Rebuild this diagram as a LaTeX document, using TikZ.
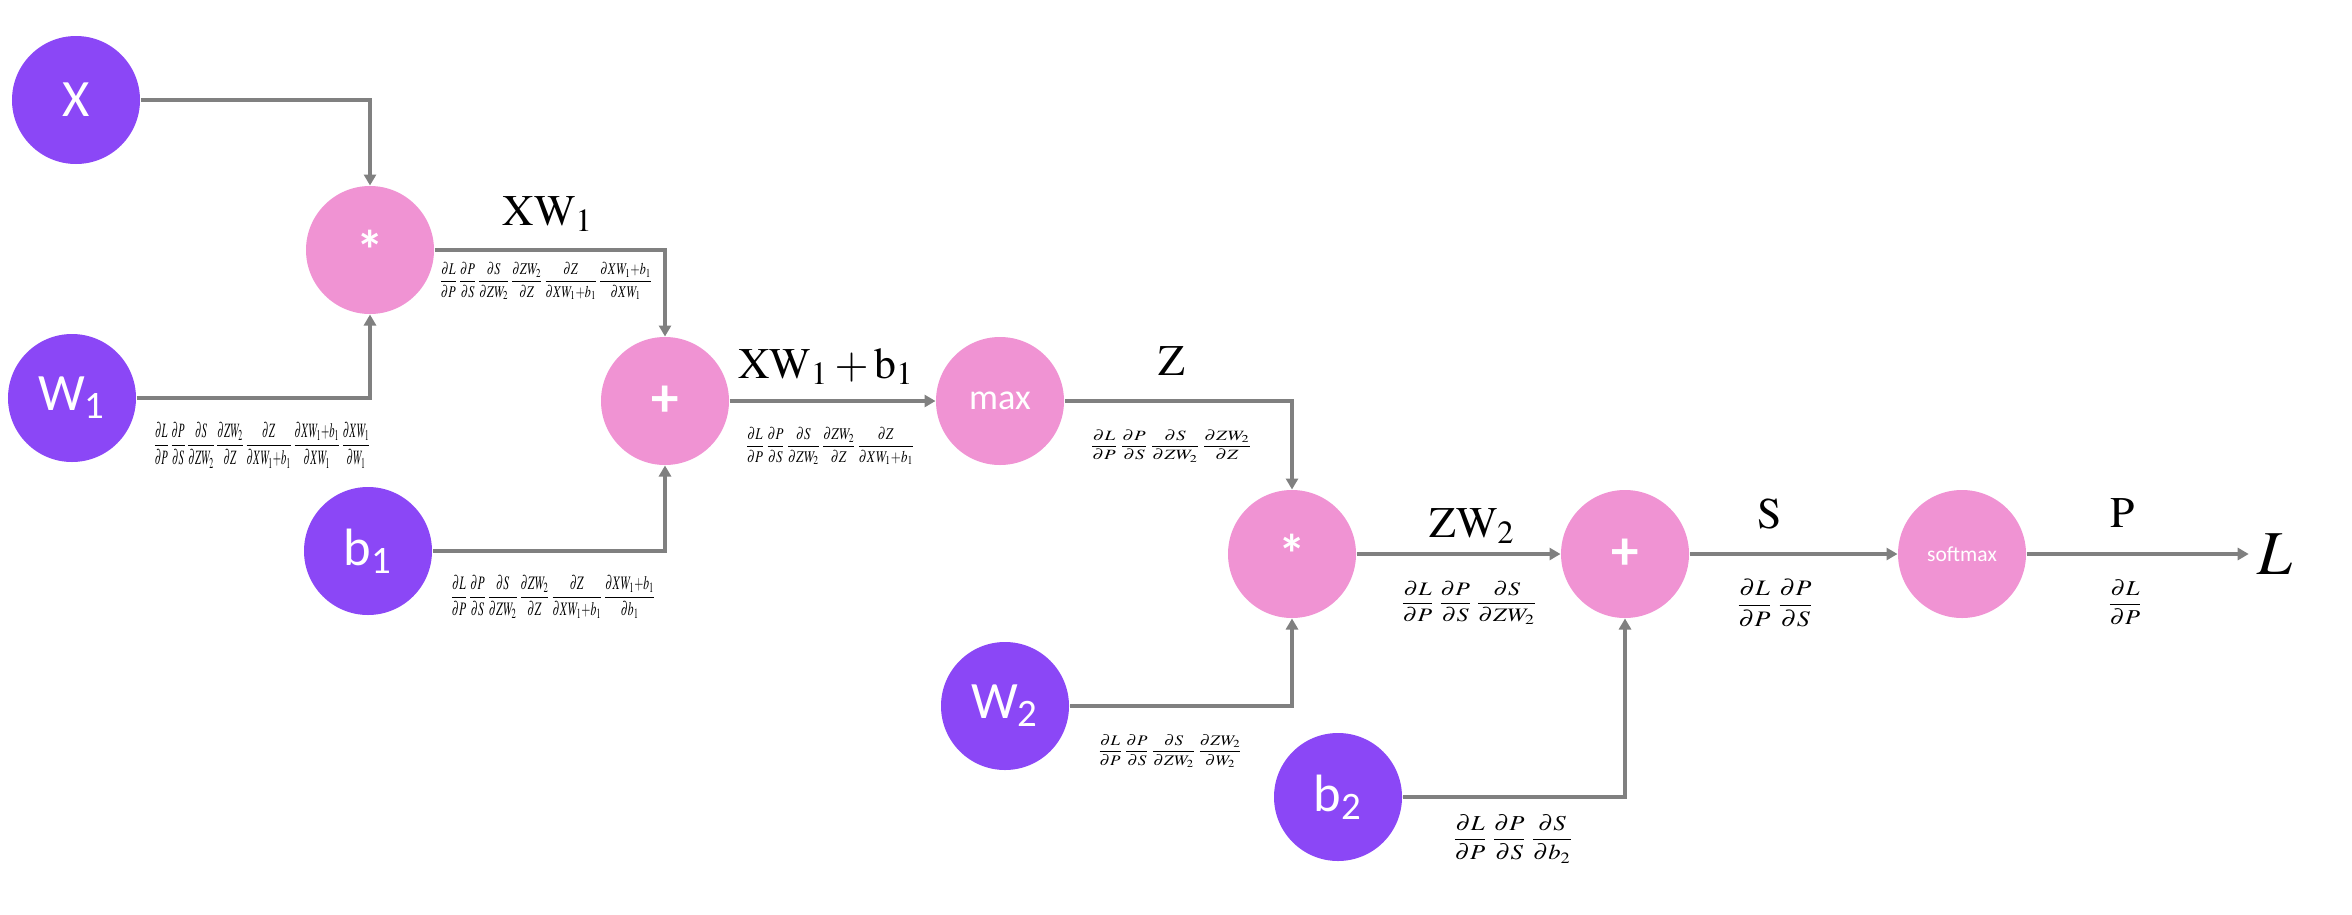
\documentclass[tikz,border=0pt]{standalone}
\usepackage{amsmath}
\usepackage{mathptmx}
\usepackage{graphicx}
\usepackage[no-math]{fontspec}
\newfontfamily\calfont{Carlito}
\usetikzlibrary{arrows.meta}
\definecolor{violet1}{HTML}{8B47F6}
\definecolor{pink1}{HTML}{F093D3}
\definecolor{linegray}{HTML}{808080}
% gradient chain squeezed to the size it has in the figure
\newcommand{\gradbox}[3]{\resizebox*{#1}{#2}{$\displaystyle #3$}}

\begin{document}
\begin{tikzpicture}[x=0.4pt, y=-0.4pt,
  inp/.style={circle, fill=violet1, minimum size=51.2pt, inner sep=0pt,
              text=white, font=\calfont\fontsize{21}{24}\selectfont},
  op/.style={circle, fill=pink1, minimum size=51.2pt, inner sep=0pt,
             text=white, font=\calfont\bfseries\fontsize{22}{24}\selectfont},
  link/.style={draw=linegray, line width=1.6pt, -{Triangle[length=4.4pt,width=4.8pt]}},
  val/.style={anchor=base, inner sep=0pt, font=\fontsize{17.5}{20}\selectfont},
  grad/.style={inner sep=0pt}]
\fill[white] (0,0) rectangle (2352,914);
\useasboundingbox (0,0) rectangle (2352,914);

% inputs and operations
\node[inp] (x) at (76,100) {X};
\node[inp] (w1) at (72,398) {W\textsubscript{1}};
\node[op] (mul1) at (370,250) {*};
\node[op] (add1) at (665,401) {+};
\node[inp] (b1) at (368,551) {b\textsubscript{1}};
\node[op, font=\calfont\fontsize{14.5}{16}\selectfont] (relu) at (1000,401) {max};
\node[op] (mul2) at (1292,554) {*};
\node[inp] (w2) at (1005,706) {W\textsubscript{2}};
\node[op] (add2) at (1625,554) {+};
\node[inp] (b2) at (1338,797) {b\textsubscript{2}};
\node[op, font=\calfont\fontsize{8.6}{10}\selectfont] (soft) at (1962,554) {softmax};
\node[font=\fontsize{25}{28}\selectfont] (loss) at (2275,554) {$L$};

% forward connections
\draw[link] (x) -| (mul1);
\draw[link] (w1) -| (mul1);
\draw[link] (mul1) -| (add1);
\draw[link] (b1) -| (add1);
\draw[link] (add1) -- (relu);
\draw[link] (relu) -| (mul2);
\draw[link] (w2) -| (mul2);
\draw[link] (mul2) -- (add2);
\draw[link] (b2) -| (add2);
\draw[link] (add2) -- (soft);
\draw[link] (soft) -- (loss);

% values on the edges
\node[val] (vxw) at (548,225) {$\mathrm{XW}_1$};
\node[val] (vxwb) at (826,378) {$\mathrm{XW}_1+\mathrm{b}_1$};
\node[val] (vz) at (1172,375) {$\mathrm{Z}$};
\node[val] (vzw) at (1472,537) {$\mathrm{ZW}_2$};
\node[val] (vs) at (1770,528) {$\mathrm{S}$};
\node[val] (vp) at (2123,527) {$\mathrm{P}$};

% gradients under the edges
\node[grad] (gxw) at (546,281) {\gradbox{85.2pt}{14.8pt}{\frac{\partial L}{\partial P}\,\frac{\partial P}{\partial S}\,\frac{\partial S}{\partial ZW_2}\,\frac{\partial ZW_2}{\partial Z}\,\frac{\partial Z}{\partial XW_1{+}b_1}\,\frac{\partial XW_1{+}b_1}{\partial XW_1}}};
\node[grad] (gw1) at (262,445) {\gradbox{86.8pt}{18.4pt}{\frac{\partial L}{\partial P}\,\frac{\partial P}{\partial S}\,\frac{\partial S}{\partial ZW_2}\,\frac{\partial ZW_2}{\partial Z}\,\frac{\partial Z}{\partial XW_1{+}b_1}\,\frac{\partial XW_1{+}b_1}{\partial XW_1}\,\frac{\partial XW_1}{\partial W_1}}};
\node[grad] (gb1) at (553,597) {\gradbox{82pt}{17.2pt}{\frac{\partial L}{\partial P}\,\frac{\partial P}{\partial S}\,\frac{\partial S}{\partial ZW_2}\,\frac{\partial ZW_2}{\partial Z}\,\frac{\partial Z}{\partial XW_1{+}b_1}\,\frac{\partial XW_1{+}b_1}{\partial b_1}}};
\node[grad] (gxwb) at (830,446) {\gradbox{67.6pt}{14.8pt}{\frac{\partial L}{\partial P}\,\frac{\partial P}{\partial S}\,\frac{\partial S}{\partial ZW_2}\,\frac{\partial ZW_2}{\partial Z}\,\frac{\partial Z}{\partial XW_1{+}b_1}}};
\node[grad] (gz) at (1171,446) {\gradbox{64.8pt}{12.8pt}{\frac{\partial L}{\partial P}\,\frac{\partial P}{\partial S}\,\frac{\partial S}{\partial ZW_2}\,\frac{\partial ZW_2}{\partial Z}}};
\node[grad] (gw2) at (1170,751) {\gradbox{58pt}{13.2pt}{\frac{\partial L}{\partial P}\,\frac{\partial P}{\partial S}\,\frac{\partial S}{\partial ZW_2}\,\frac{\partial ZW_2}{\partial W_2}}};
\node[grad] (gzw) at (1469,603) {\gradbox{55.2pt}{17.2pt}{\frac{\partial L}{\partial P}\,\frac{\partial P}{\partial S}\,\frac{\partial S}{\partial ZW_2}}};
\node[grad] (gb2) at (1513,839) {\gradbox{48.8pt}{19.2pt}{\frac{\partial L}{\partial P}\,\frac{\partial P}{\partial S}\,\frac{\partial S}{\partial b_2}}};
\node[grad] (gs) at (1775,603) {\gradbox{31.6pt}{18.8pt}{\frac{\partial L}{\partial P}\,\frac{\partial P}{\partial S}}};
\node[grad] (gp) at (2125,602) {\gradbox{14.4pt}{18pt}{\frac{\partial L}{\partial P}}};
\end{tikzpicture}
\end{document}
